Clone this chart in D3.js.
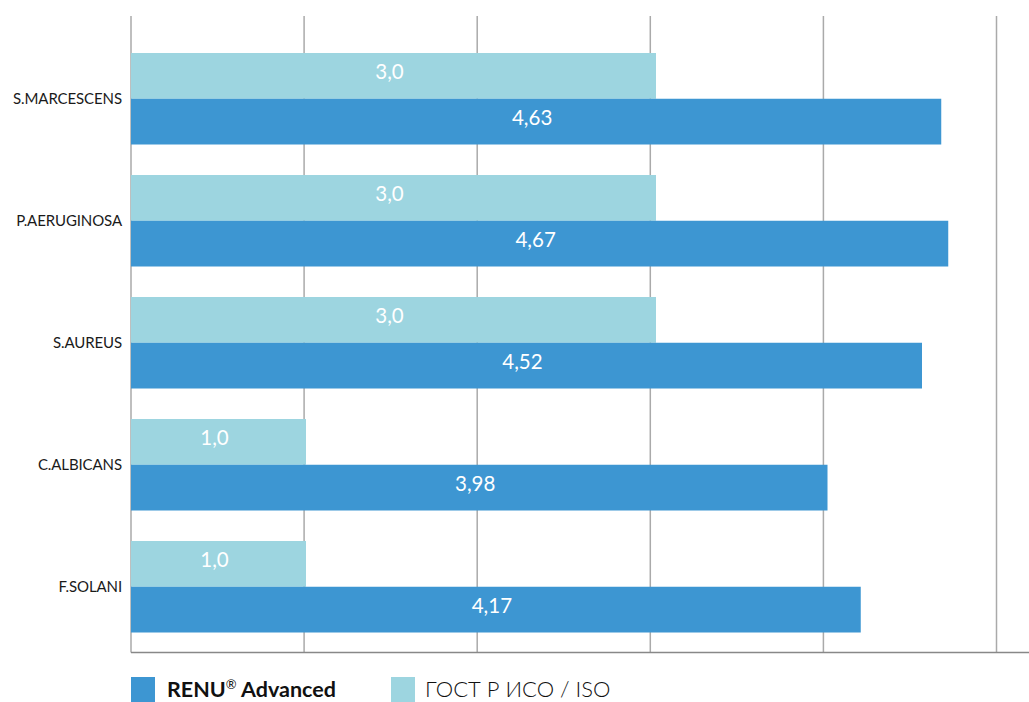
<!DOCTYPE html>
<html><head><meta charset="utf-8">
<script src="https://cdn.jsdelivr.net/npm/d3@7"></script>
<style>body{margin:0;background:#fff;overflow:hidden}</style>
</head><body><svg id="chart" width="1029" height="702"></svg>
<script>
const categories = ["S.MARCESCENS","P.AERUGINOSA","S.AUREUS","C.ALBICANS","F.SOLANI"];
const renuValues = [4.63,4.67,4.52,3.98,4.17];
const gostValues = [3.0,3.0,3.0,1.0,1.0];
const gridTicks = [0,1,2,3,4,5];
const seriesNames = ["RENU", "ГОСТ Р ИСО / ISO"];
const seriesKeys = ["gost","renu"];
const colors = {renu:"#3d96d2", gost:"#9dd5e0"};

const svg = d3.select("#chart");
const FONT = "Lato, 'Noto Sans', sans-serif";

const x = d3.scaleLinear().domain([0,5]).range([131,1006]);
const xGrid = d3.scaleLinear().domain([0,5]).range([131,996.5]);
const y = d3.scaleBand().domain(categories).range([53,632.5]).paddingInner(0.25).paddingOuter(0);
const ySub = d3.scaleBand().domain(seriesKeys).range([0,y.bandwidth()]);

const gridTop = 16, gridBottom = 652.5;

// gridlines
svg.append("g").selectAll("line").data(gridTicks).join("line")
  .attr("x1", d=>xGrid(d)).attr("x2", d=>xGrid(d))
  .attr("y1", gridTop).attr("y2", gridBottom)
  .attr("stroke", "#aaaaaa").attr("stroke-width", 1.5);

// bottom axis line
svg.append("line").attr("x1", xGrid(0)).attr("x2", 1029)
  .attr("y1", gridBottom).attr("y2", gridBottom)
  .attr("stroke", "#888888").attr("stroke-width", 1.6);

const rows = categories.map((c,i)=>({cat:c, renu:renuValues[i], gost:gostValues[i]}));

const fmt = (k,v) => (k==="renu" ? d3.format(".2f")(v) : d3.format(".1f")(v)).replace(".", ",");

const g = svg.append("g").selectAll("g").data(rows).join("g")
  .attr("transform", d=>`translate(0,${y(d.cat)})`);

g.selectAll("rect").data(d=>seriesKeys.map(k=>({k, v:d[k]}))).join("rect")
  .attr("x", x(0)).attr("y", d=>ySub(d.k))
  .attr("width", d=>x(d.v)-x(0)).attr("height", ySub.bandwidth())
  .attr("fill", d=>colors[d.k]);

g.selectAll("text.val").data(d=>seriesKeys.map(k=>({k, v:d[k]}))).join("text")
  .attr("class","val")
  .attr("x", d=>(x(0)+x(d.v))/2 - 4)
  .attr("y", d=>ySub(d.k)+ySub.bandwidth()/2 + 3)
  .attr("text-anchor","middle")
  .attr("fill","#fff")
  .attr("font-family", FONT).attr("font-size", 20.5)
  .text(d=>fmt(d.k,d.v));

// category labels
svg.append("g").selectAll("text").data(categories).join("text")
  .attr("x", 122).attr("y", d=>y(d)+y.bandwidth()/2 + 5.5)
  .attr("text-anchor","end")
  .attr("fill","#1a1a1a")
  .attr("font-family", FONT).attr("font-size", 15)
  .attr("letter-spacing", -0.1)
  .text(d=>d);

// legend
const leg = svg.append("g");
leg.append("rect").attr("x",131).attr("y",677).attr("width",24).attr("height",26).attr("fill",colors.renu);
const t1 = leg.append("text").attr("x",167).attr("y",697)
  .attr("font-family", FONT).attr("font-size", 21.5).attr("font-weight",700).attr("fill","#111");
t1.append("tspan").text(seriesNames[0]);
t1.append("tspan").attr("font-size",13).attr("font-weight",400).attr("dy",-8).text("®");
t1.append("tspan").attr("dy",8).text(" Advanced");

leg.append("rect").attr("x",391).attr("y",677).attr("width",24).attr("height",26).attr("fill",colors.gost);
leg.append("text").attr("x",425).attr("y",697)
  .attr("font-family", FONT).attr("font-size", 22).attr("font-weight",300).attr("fill","#111")
  .attr("letter-spacing",0)
  .text(seriesNames[1]);
</script></body></html>
